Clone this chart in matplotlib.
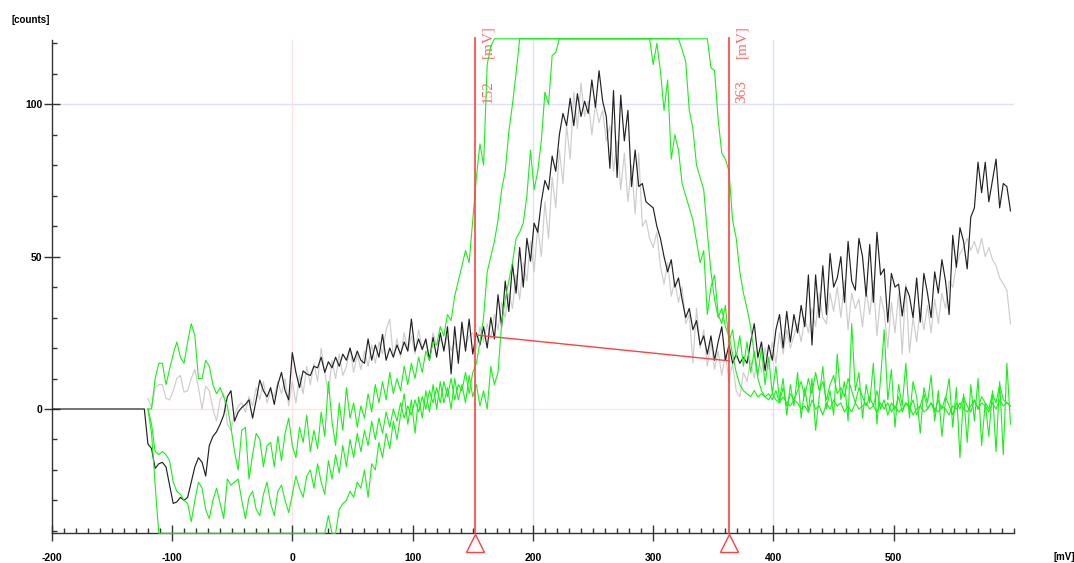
import numpy as np
import matplotlib
matplotlib.use('Agg')
import matplotlib.pyplot as plt
from matplotlib.ticker import MultipleLocator, FixedLocator
from matplotlib.transforms import ScaledTranslation

S = 121.5   # detector saturation (top clip)
L = -40.8   # bottom clip

volts = np.arange(-120, 600, 3)
lead_volts = [-200, -123]
lead_counts = [0, 0]

black = [
    -11.5, -13, -19.5, -18, -17.5, -19, -25, -31, -30.5, -29, -30, -29, -24, -19, -16, -17.5, -22, -12, -9, -7.5,
    -5, -2, 4, 6, -4, -1, 0.5, 1.5, 3, -3, 3, 9.5, 6, 4, 7, 1.5, 8, 12, 6, 3,
    18.5, 12, 7, 12.5, 11.5, 11, 14, 13.5, 17, 12, 15.5, 13.5, 17, 14, 18, 16, 20, 15.5, 19, 16,
    15, 23, 16, 21, 17, 24.5, 16, 20, 17, 21, 18, 22, 19, 29.5, 19, 23, 19.5, 23, 16, 23.5,
    17, 25, 19, 27, 11.5, 27, 15, 28.5, 19, 29.5, 18, 25, 21, 27, 20, 30, 23, 37.5, 27, 42,
    32, 47.5, 38, 53, 40, 56, 48.5, 61, 58, 68, 75, 72, 83, 78, 90, 97, 93, 102, 93, 103.5,
    96, 101, 97, 108, 99, 111, 101, 96, 79, 104.5, 76, 103, 88, 98, 73, 85, 73, 74, 68, 67,
    66, 60, 56, 50, 45, 49, 40, 43, 36, 30, 33, 26, 29, 21, 24, 18, 24, 16, 22, 27,
    16, 21, 15, 18, 15, 17, 15, 22, 28, 17, 22, 12.5, 21, 16, 26, 31, 20, 32, 22, 31,
    25, 34, 27, 44, 21, 44, 30, 47, 31, 51, 40, 43, 50, 35, 55, 42, 39, 56, 50, 37,
    54, 35, 58, 44, 46, 28.5, 44.5, 40, 41, 30.5, 40, 37, 30, 43, 28.5, 44.5, 38, 30, 45, 38,
    49, 42, 31, 57, 46.5, 59.5, 55, 46, 63, 66, 81, 71, 81, 68, 75, 82, 66, 74, 73, 65,
]

gray = [
    3.5, 0.5, 7, 8, 8, 3.5, 3, 6, 10, 11, 5.5, 6, 10, 13, 7, 0, 7.5, 6, 0, -4,
    3, 5, -5, -7, -2, 1, 2, -1, 4, 1, 7, 3, 9, 2, 6, 4, 9, 5, 10, 1,
    9, 2, 11, 5, 14, 8, 15, 9, 20, 12, 5, 16, 10, 18, 11, 14, 20, 12, 18, 13,
    19, 14, 21, 15, 22, 18, 26, 29.5, 17, 23, 17, 25, 19, 24, 18, 26, 20, 22, 17, 25,
    21, 23, 20, 24, 19, 22, 17, 26, 21, 24, 25, 20, 27, 22, 28, 23, 31, 26, 35, 30,
    38, 33, 44, 36, 48, 42, 55, 45, 60, 50, 68, 56, 76, 66, 85, 74, 93, 82, 104, 92,
    107, 96, 101, 90, 100, 94, 98, 88, 93, 78, 88, 72, 84, 68, 80, 64, 84, 60, 62, 56,
    53, 58, 47, 41, 48, 37, 42, 35, 40, 28, 31, 15, 33, 20, 26, 14, 22, 13, 19, 11,
    18, 9, 15, 6, 4, 12, 9, 16, 10, 18, 12, 20, 13, 22, 15, 25, 18, 26, 20, 24,
    28, 22, 30, 25, 33, 27, 38, 30, 28, 38, 32, 40, 30, 42, 26, 38, 33, 36, 27, 39,
    31, 42, 24, 37, 32, 20, 35, 25, 38, 18, 41, 18.5, 30, 22, 33, 26, 34, 25, 36, 28,
    38, 33, 42, 40, 47, 51, 53, 56, 52, 55, 51, 56, 50, 53, 49, 47, 43, 41, 39, 28,
]

green_a = [
    0, 0, 10, 15, 15, 8, 13, 18, 22, 17, 15, 22, 28, 24, 10, 10, 16, 14, 8, 5,
    7, 4, 1, -6, -14, -20, -7, -6, -23, -15, -8, -10, -19, -12, -11, -19, -9, -17, -8, -3,
    -12, -16, -6, -11, -2, -14, -7, -13, -1, -9, 9, -4, -12, 2, -7, 7, -3, 2, -6, 1,
    -3, 5, -1, 8, 2, 9, 3, 12, 5, 10, 6, 14, 8, 15, 10, 17, 12, 19, 16, 22,
    21, 27, 24, 31, 29, 37, 42, 47, 52, 48, 62, 76, 87, 80, 113, 119, S, S, S, S,
    S, S, S, S, S, S, S, S, S, S, S, S, S, S, S, S, S, S, S, S,
    S, S, S, S, S, S, S, S, S, S, S, S, S, S, S, S, S, S, S, S,
    S, S, S, S, S, S, S, S, S, S, S, S, S, S, S, S, 112, 111, 95, 84,
    82, 78, 62, 56, 45, 38, 33, 27, 18, 10, 6, 4, 5, 3, 6, 2, 7, 1, 5, 3,
    6, 9, 4, 10, 5, 12, 6, 9, 3, 8, 11, 5, 7, 4, 10, 6, 2, 7, 4, 1,
    4, 1, 6, 0, 3, -2, 2, 0, 4, -1, 2, 0, 3, -2, 1, 5, 0, 2, -1, 3,
    0, 4, 1, -2, 2, 0, 4, 1, -1, 3, 0, 4, 2, 0, 5, 2, 8, 3, 2, 1,
]

green_b = [
    0, -5, -14, -15, -14, -15, -17, -24, -27, -28, -30, -31, -37, -30, -24, -26, -33, -36, -30, -26,
    -31, -36, -23, -25, -24, -23, -30, -36, -29, -27, -33, -35, -28, -24, -31, -35, -27, -25, -30, -34,
    -28, -22, -26, -29, -22, -20, -26, -18, -24, -28, -17, -23, -15, -21, -12, -19, -10, -16, -8, -14,
    -7, -12, -4, -10, -3, -8, -1, -6, 0, -4, 2, -3, 1, -2, 3, -1, 4, 0, 6, 2,
    7, 2, 9, 4, 10, 3, 8, 6, 12, 5, 12, 15, 22, 30, 45, 50, 55, 62, 72, 78,
    91, 100, 110, S, S, S, S, S, S, S, S, S, S, S, S, S, S, S, S, S,
    S, S, S, S, S, S, S, S, S, S, S, S, S, S, S, S, S, S, S, S,
    S, S, S, S, S, S, S, S, 118, 114, 98, 92, 80, 76, 72, 58, 45, 36, 30, 33,
    27, 24, 18, 12, 8, 6, 5, 4, 6, 4, 5, 4, 3, 5, 3, 2, 4, 2, 1, 3,
    2, 0, 1, -1, 3, 0, 1, -2, 2, 0, 3, 1, 2, -1, 1, -1, 2, 0, 1, 2,
    0, 1, -1, 2, 0, 2, -1, 1, -1, 0, 2, 1, -2, 0, 1, -1, 0, 2, 0, -1,
    1, 0, -2, 1, 0, 2, 0, -1, 1, 3, 0, 2, 1, -1, 2, 0, 3, 1, 2, 1,
]

green_c = [
    0, -8, -25, L, L, L, L, L, L, L, L, L, L, L, L, L, L, L, L, L,
    L, L, L, L, L, L, L, L, L, L, L, L, L, L, L, L, L, L, L, L,
    L, L, L, L, L, L, L, L, L, L, -35, L, L, -33, -31, -30, -27, -29, -24, -26,
    -20, -29, -18, -20, -11, -16, -8, -13, -4, -10, -2, 5, -5, 3, -8, 4, -3, 6, -1, 8,
    0, 9, 2, 7, 0, 10, 3, 8, 2, 11, 4, 8, 1, 6, 0, 14, 8, 12, 28, 36,
    42, 48, 56, 58, 61, 70, 85, 72, 78, 88, 104, 100, 116, 117, S, S, S, S, S, S,
    S, S, S, S, S, S, S, S, S, S, S, S, S, S, S, S, S, S, S, S,
    113, 120, 111, 98, 108, 82, 90, 85, 74, 70, 66, 62, 55, 48, 52, 31, 40, 44, 31, 28,
    34, 22, 26, 17, 24, 14, 22, 12, 19, 11, 20, 8, 17, 5, 14, 3, 10, -2, 8, 1,
    12, -3, 7, -1, 10, -7, 4, 14, 0, 6, -2, 18, 3, 9, -4, 28, 6, 12, -3, 8,
    2, 15, -5, 10, 26, 3, 13, -6, 8, 1, 15, -3, 9, 4, -8, 7, 2, 11, -4, 6,
    -9, 3, 10, -6, 7, -16, 5, -11, 8, -4, 10, -12, 2, -9, 6, -14, 9, -15, 15, -5,
]

cursors = [152, 363]
cursor_counts = [24.3, 15.8]
x_ticks = [-200, -100, 0, 100, 200, 300, 400, 500]
y_ticks = [0, 50, 100]

plt.rcParams['font.family'] = ['Liberation Sans', 'DejaVu Sans']
plt.rcParams['axes.unicode_minus'] = False

fig = plt.figure(figsize=(10.74, 5.63), dpi=100)
ax = fig.add_axes([51.7 / 1074, (563 - 533.3) / 563, 962.4 / 1074, 493.3 / 563])
ax.set_xlim(-200, 600)
ax.set_ylim(L, 121.1)

# grid
lav = '#dedeff'
pink = '#ffe2e2'
ax.axhline(100, color=lav, lw=1, zorder=0)
ax.axhline(0, color=pink, lw=1, zorder=0)
ax.axvline(0, color=pink, lw=1, zorder=0)
for gx in (200, 400):
    ax.axvline(gx, color=lav, lw=1, zorder=0)

# series
ax.plot(volts, gray, color='#cdcdcd', lw=0.85, zorder=2)
ax.plot(np.r_[lead_volts, volts], np.r_[lead_counts, black], color='#222222', lw=0.85, zorder=3)
for g in (green_a, green_b, green_c):
    ax.plot(volts, g, color='#18f018', lw=0.8, zorder=4, clip_on=False)

# cursors
red = '#ff4040'
for c in cursors:
    ax.axvline(c, color=red, lw=1.2, ymax=1.005, clip_on=False, zorder=5)
    ax.plot([c], [L], marker='^', ms=13, mfc='none', mec=red, mew=1,
            clip_on=False, zorder=6,
            transform=ax.transData + ScaledTranslation(0, -0.095, fig.dpi_scale_trans))
    ax.annotate("[mV]", xy=(c, 1), xycoords=('data', 'axes fraction'),
                xytext=(4.5, 10.8), textcoords='offset points', rotation=90,
                ha='left', va='top', color='#ff6a6a', fontsize=11,
                family='Liberation Serif', annotation_clip=False)
    ax.annotate(f"{c}", xy=(c, 1), xycoords=('data', 'axes fraction'),
                xytext=(4.5, -45.5), textcoords='offset points', rotation=90,
                ha='left', va='bottom', color='#ff6a6a', fontsize=11,
                family='Liberation Serif', annotation_clip=False)
ax.plot(cursors, cursor_counts, color=red, lw=1, zorder=5)

# axes styling
for s in ('top', 'right'):
    ax.spines[s].set_visible(False)
for s in ('left', 'bottom'):
    ax.spines[s].set_color('#333333')
    ax.spines[s].set_linewidth(1)

ax.xaxis.set_major_locator(FixedLocator(x_ticks))
ax.xaxis.set_minor_locator(MultipleLocator(10))
ax.yaxis.set_major_locator(FixedLocator(y_ticks))
ax.yaxis.set_minor_locator(MultipleLocator(10))
ax.tick_params(axis='both', which='major', direction='inout', length=11, width=1,
               color='#333333', labelsize=7.5)
ax.tick_params(axis='x', which='major', pad=9)
ax.tick_params(axis='y', which='major', pad=1)
ax.tick_params(axis='both', which='minor', direction='in', length=3.6, width=1,
               color='#333333')
for lbl in ax.get_xticklabels() + ax.get_yticklabels():
    lbl.set_fontweight('bold')

fig.text(12 / 1074, 1 - 20 / 563, '[counts]', fontsize=7, fontweight='bold',
         ha='left', va='center')
fig.text(1053 / 1074, 1 - 557 / 563, '[mV]', fontsize=7, fontweight='bold',
         ha='left', va='center')

fig.savefig('out.png', dpi=100)
